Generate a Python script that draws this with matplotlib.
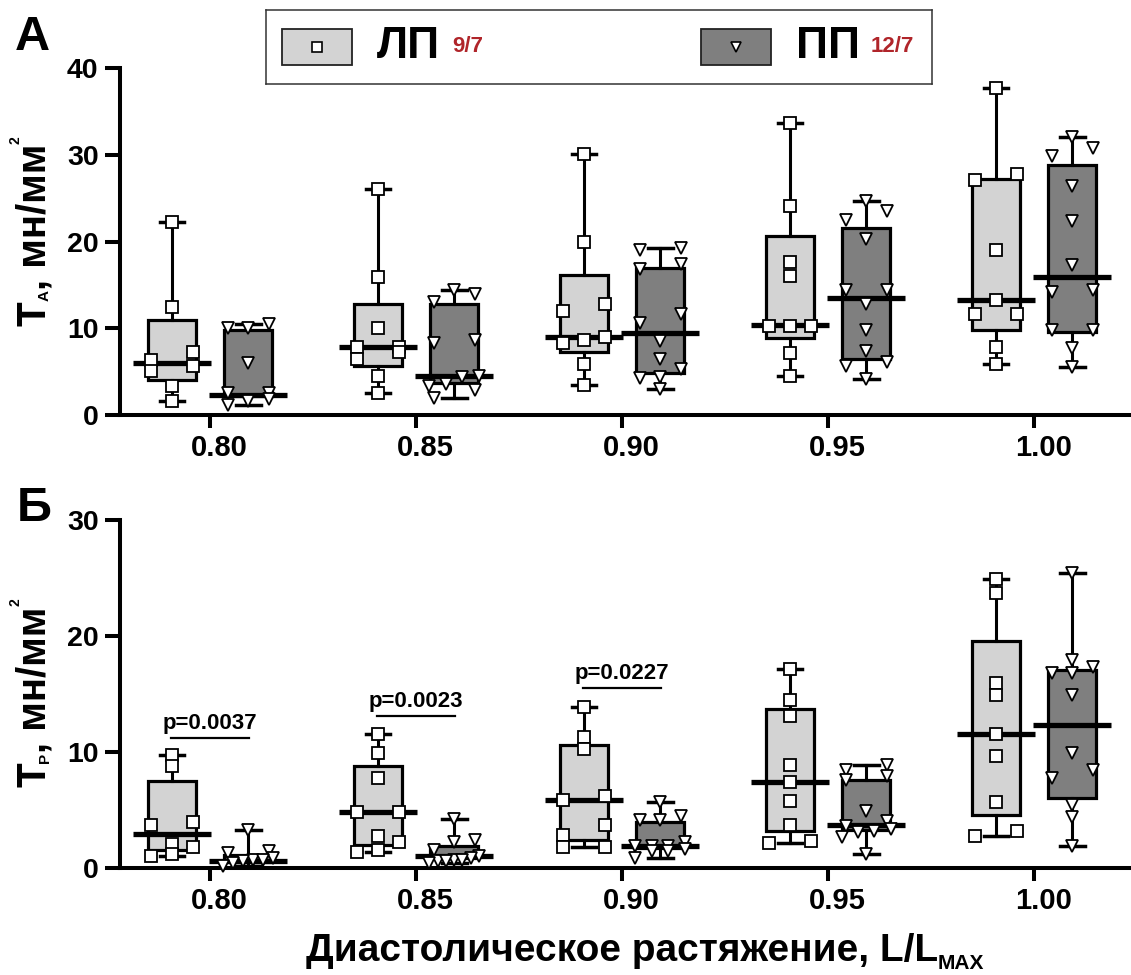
import numpy as np
import matplotlib
matplotlib.use('Agg')
import matplotlib.pyplot as plt
from matplotlib.patches import Rectangle
from matplotlib import transforms

plt.rcParams['font.family'] = ['Liberation Sans', 'DejaVu Sans']
plt.rcParams['font.weight'] = 'bold'

stretch = ['0.80', '0.85', '0.90', '0.95', '1.00']

# panel A (T_A), ЛП: min, q1, median, q3, max
a_lp_min = [1.6, 2.5, 3.45, 4.5, 5.9]
a_lp_q1 = [4.0, 5.6, 7.3, 8.9, 9.85]
a_lp_med = [6.0, 7.85, 9.0, 10.35, 13.2]
a_lp_q3 = [10.9, 12.8, 16.1, 20.6, 27.2]
a_lp_max = [22.3, 26.1, 30.1, 33.7, 37.7]
a_lp_pts = [
    [22.3, 12.4, 7.3, 6.3, 5.6, 5.1, 3.3, 1.6],
    [26.1, 15.9, 10.0, 7.8, 7.8, 7.3, 6.5, 4.5, 2.5],
    [30.1, 19.95, 12.8, 12.0, 9.0, 8.7, 8.3, 5.9, 3.45],
    [33.7, 24.1, 17.6, 16.0, 10.3, 10.3, 10.3, 7.2, 4.5],
    [37.7, 27.8, 27.1, 19.0, 13.2, 11.6, 11.6, 7.85, 5.9],
]
# panel A, ПП
a_pp_min = [1.2, 2.0, 3.0, 4.2, 5.55]
a_pp_q1 = [2.2, 3.7, 4.8, 6.5, 9.6]
a_pp_med = [2.35, 4.5, 9.5, 13.5, 15.9]
a_pp_q3 = [9.8, 12.8, 16.9, 21.6, 28.8]
a_pp_max = [10.5, 14.4, 19.2, 24.7, 32.0]
a_pp_pts = [
    [10.5, 10.0, 10.0, 6.0, 2.5, 2.5, 1.8, 1.6, 1.2],
    [14.4, 14.0, 13.0, 8.6, 8.3, 4.5, 4.4, 3.6, 3.4, 2.9, 2.0],
    [19.2, 19.0, 17.4, 16.8, 11.6, 10.6, 8.5, 6.5, 5.3, 4.4, 4.3, 3.0],
    [24.7, 23.5, 22.5, 20.3, 14.4, 14.4, 12.8, 9.8, 7.4, 6.1, 5.6, 4.2],
    [32.0, 30.8, 29.9, 26.4, 22.4, 17.3, 14.4, 14.2, 9.8, 9.8, 7.7, 5.55],
]

# panel Б (T_P), ЛП
b_lp_min = [1.06, 1.38, 1.78, 2.15, 2.73]
b_lp_q1 = [1.58, 2.0, 2.44, 3.16, 4.59]
b_lp_med = [2.93, 4.8, 5.89, 7.38, 11.54]
b_lp_q3 = [7.46, 8.76, 10.62, 13.7, 19.6]
b_lp_max = [9.76, 11.57, 13.84, 17.14, 24.92]
b_lp_pts = [
    [9.76, 8.8, 3.93, 3.73, 2.07, 1.78, 1.2, 1.06],
    [11.57, 9.9, 7.8, 4.8, 4.8, 2.73, 2.24, 1.52, 1.38],
    [13.84, 11.28, 10.25, 6.23, 5.89, 3.67, 2.81, 1.78, 1.78],
    [17.14, 14.5, 13.12, 8.9, 7.38, 5.74, 3.73, 2.3, 2.15],
    [24.92, 23.69, 15.93, 14.93, 11.54, 9.62, 5.66, 3.16, 2.73],
]
# panel Б, ПП
b_pp_min = [0.14, 0.43, 0.86, 1.23, 1.87]
b_pp_q1 = [0.5, 0.9, 1.75, 3.3, 6.03]
b_pp_med = [0.63, 1.0, 1.92, 3.67, 12.35]
b_pp_q3 = [1.1, 1.92, 3.93, 7.6, 17.03]
b_pp_max = [3.3, 4.2, 5.66, 8.9, 25.47]
b_pp_pts = [
    [3.3, 1.44, 1.29, 0.86, 0.72, 0.72, 0.57, 0.43, 0.14],
    [4.2, 2.44, 2.2, 1.58, 1.0, 0.86, 0.72, 0.72, 0.57, 0.57, 0.43],
    [5.66, 4.5, 4.1, 4.1, 2.2, 1.87, 1.87, 1.87, 1.64, 1.44, 1.44, 0.86],
    [8.9, 8.47, 7.95, 7.6, 4.88, 4.02, 3.59, 3.36, 3.16, 3.07, 2.67, 1.23],
    [25.47, 17.94, 17.3, 16.8, 16.8, 14.93, 9.9, 8.47, 7.75, 5.46, 4.39, 1.87],
]

p_labels = ['p=0.0037', 'p=0.0023', 'p=0.0227']
p_levels = [11.2, 13.1, 15.5]

LIGHT = '#d3d3d3'
DARK = '#7f7f7f'
RED = '#b0252a'
W, H = 1131, 975


def swarm(vals, thr, step_max=0.1, span=0.12):
    # spread points that sit at nearly the same height
    vals = np.asarray(vals, dtype=float)
    order = np.argsort(vals)
    offs = np.zeros(len(vals))
    i = 0
    while i < len(order):
        j = i
        while j + 1 < len(order) and vals[order[j + 1]] - vals[order[i]] < thr:
            j += 1
        n = j - i + 1
        if n == 1:
            slots = [0.0]
        elif n == 2:
            slots = [-step_max, step_max]
        else:
            step = min(step_max, 2 * span / (n - 1))
            slots = (np.arange(n) - (n - 1) / 2) * step
        for k, idx in enumerate(order[i:j + 1]):
            offs[idx] = slots[k]
        i = j + 1
    return offs


def draw_group(ax, shift, mins, q1s, meds, q3s, maxs, pts, color, marker, msize, thr):
    pos = np.arange(len(meds)) + shift
    stats = [dict(med=m, q1=a, q3=b, whislo=lo, whishi=hi, fliers=[])
             for lo, a, m, b, hi in zip(mins, q1s, meds, q3s, maxs)]
    ax.bxp(stats, positions=pos, widths=0.235, capwidths=0.12, patch_artist=True,
           showfliers=False, manage_ticks=False,
           boxprops=dict(facecolor=color, edgecolor='black', linewidth=2.3),
           whiskerprops=dict(color='black', linewidth=2.2),
           capprops=dict(color='black', linewidth=2.5),
           medianprops=dict(linewidth=0))
    ax.hlines(meds, pos - 0.19, pos + 0.19, color='black', linewidth=3.8, zorder=4)
    for p, v in zip(pos, pts):
        x = p + swarm(v, thr)
        ax.plot(x, v, linestyle='none', marker=marker, markersize=msize,
                markerfacecolor='white', markeredgecolor='black',
                markeredgewidth=1.3, zorder=5, clip_on=False)


def style_axes(ax, ymax):
    ax.set_xlim(-0.437, 4.47)
    ax.set_ylim(0, ymax)
    ax.set_yticks(np.arange(0, ymax + 1, 10))
    ax.set_xticks(range(len(stretch)))
    ax.set_xticklabels(stretch)
    for s in ['top', 'right']:
        ax.spines[s].set_visible(False)
    for s in ['left', 'bottom']:
        ax.spines[s].set_linewidth(2.9)
    ax.tick_params(axis='y', length=10.5, width=2.9, pad=5, labelsize=20.5)
    ax.tick_params(axis='x', length=9.5, width=2.9, pad=4, labelsize=21)
    off = transforms.ScaledTranslation(9 / 100, 0, ax.figure.dpi_scale_trans)
    for lab in ax.get_xticklabels():
        lab.set_transform(lab.get_transform() + off)
        lab.set_fontweight('bold')
    for lab in ax.get_yticklabels():
        lab.set_fontweight('bold')


fig = plt.figure(figsize=(W / 100, H / 100), dpi=100)
renderer = fig.canvas.get_renderer()
ax_a = fig.add_axes([120 / W, 1 - 415 / H, 1 - 120 / W, 347 / H])
ax_b = fig.add_axes([120 / W, 1 - 868 / H, 1 - 120 / W, 348 / H])

thr_a = 40 * 10 / 347
thr_b = 30 * 10 / 348
draw_group(ax_a, -0.185, a_lp_min, a_lp_q1, a_lp_med, a_lp_q3, a_lp_max, a_lp_pts, LIGHT, 's', 8, thr_a)
draw_group(ax_a, 0.185, a_pp_min, a_pp_q1, a_pp_med, a_pp_q3, a_pp_max, a_pp_pts, DARK, 'v', 9, thr_a)
draw_group(ax_b, -0.185, b_lp_min, b_lp_q1, b_lp_med, b_lp_q3, b_lp_max, b_lp_pts, LIGHT, 's', 8, thr_b)
draw_group(ax_b, 0.185, b_pp_min, b_pp_q1, b_pp_med, b_pp_q3, b_pp_max, b_pp_pts, DARK, 'v', 9, thr_b)
style_axes(ax_a, 40)
style_axes(ax_b, 30)

for i, (lab, lev) in enumerate(zip(p_labels, p_levels)):
    ax_b.plot([i - 0.19, i + 0.19], [lev, lev], color='black', linewidth=1.6)
    ax_b.annotate(lab, (i, lev), xytext=(0, 6.5), textcoords='offset points',
                  ha='center', va='baseline', fontsize=16, fontweight='bold')


def text_width(s, size):
    t = fig.text(0, 0, s, fontsize=size, fontweight='bold')
    w = t.get_window_extent(renderer).width
    t.remove()
    return w


def label_pieces(parts, cx, cy, vertical):
    # parts: (text, size, baseline shift in px); cx, cy: px from top-left
    widths = [text_width(s, sz) for s, sz, sh in parts]
    pos = -sum(widths) / 2
    for (s, sz, sh), w in zip(parts, widths):
        if vertical:
            fig.text((cx - sh) / W, (H - cy + pos) / H, s, fontsize=sz, fontweight='bold',
                     rotation=90, rotation_mode='anchor', ha='left', va='baseline')
        else:
            fig.text((cx + pos) / W, (H - cy + sh) / H, s, fontsize=sz, fontweight='bold',
                     ha='left', va='baseline')
        pos += w


label_pieces([('T', 29, 0), ('A', 11, -4), (', мн/мм', 29, 0), ('2', 10, 25)], 45, 231, True)
label_pieces([('T', 29, 0), ('P', 11, -4), (', мн/мм', 29, 0), ('2', 10, 25)], 45, 693, True)
label_pieces([('Диастолическое растяжение, L/L', 28, 0), ('MAX', 15, -8)], 645, 961, False)

fig.text(15 / W, 1 - 50 / H, 'А', fontsize=35, fontweight='bold', va='baseline')
fig.text(17 / W, 1 - 521 / H, 'Б', fontsize=35, fontweight='bold', va='baseline')

# legend box
lg = fig.add_axes([266 / W, 1 - 84 / H, 666 / W, 74 / H])
lg.set_xlim(0, 666)
lg.set_ylim(0, 74)
lg.set_xticks([])
lg.set_yticks([])
for s in lg.spines.values():
    s.set_linewidth(1.1)
    s.set_color('#333333')
for x0, col, mk, name, n in [(16, LIGHT, 's', 'ЛП', '9/7'), (435, DARK, 'v', 'ПП', '12/7')]:
    lg.add_patch(Rectangle((x0, 19), 70, 36, facecolor=col, edgecolor='#222222', linewidth=1.3))
    lg.plot([x0 + 35], [37], marker=mk, markersize=6.5, markerfacecolor='white',
            markeredgecolor='black', markeredgewidth=1.2)
    lg.text(x0 + 95, 37, name, fontsize=32, fontweight='bold', va='center', ha='left')
    lg.text(x0 + 170, 38, n, fontsize=16, fontweight='bold', va='center', ha='left', color=RED)

fig.savefig('out.png', dpi=100)
